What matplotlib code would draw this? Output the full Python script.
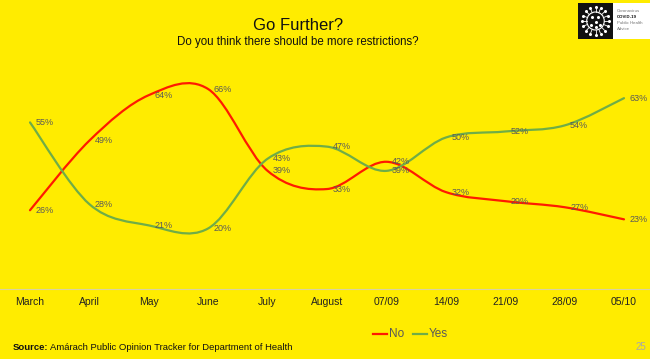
import numpy as np
import matplotlib.pyplot as plt
from matplotlib.path import Path
from matplotlib.patches import PathPatch, Rectangle, Circle

categories = ["March", "April", "May", "June", "July", "August",
              "07/09", "14/09", "21/09", "28/09", "05/10"]
no_vals = [26, 49, 64, 66, 39, 33, 42, 32, 29, 27, 23]
yes_vals = [55, 28, 21, 20, 43, 47, 39, 50, 52, 54, 63]

BG = "#FFEC00"
RED = "#FF1A00"
GREEN = "#6FAD47"
LABEL = "#595959"

plt.rcParams["font.family"] = ["Liberation Sans", "DejaVu Sans"]


def smooth_path(xs, ys):
    # Excel-style smoothed line: cubic Bezier segments through the points
    pts = np.column_stack([xs, ys]).astype(float)
    n = len(pts)
    verts = [pts[0]]
    codes = [Path.MOVETO]
    for i in range(n - 1):
        p0 = pts[max(i - 1, 0)]
        p1 = pts[i]
        p2 = pts[i + 1]
        p3 = pts[min(i + 2, n - 1)]
        c1 = p1 + (p2 - p0) / 6.0
        c2 = p2 - (p3 - p1) / 6.0
        verts += [c1, c2, p2]
        codes += [Path.CURVE4] * 3
    return Path(verts, codes)


fig = plt.figure(figsize=(6.5, 3.59), dpi=100, facecolor=BG)
ax = fig.add_axes([0.0, (359 - 289) / 359, 1.0, 229 / 359])
ax.set_facecolor(BG)

x = np.arange(len(categories))
for vals, col in [(no_vals, RED), (yes_vals, GREEN)]:
    ax.add_patch(PathPatch(smooth_path(x, vals), facecolor="none",
                           edgecolor=col, lw=1.6, capstyle="round"))
    for xi, v in zip(x, vals):
        ax.annotate(f"{v}%", (xi, v), xytext=(4, 0), textcoords="offset points",
                    ha="left", va="center", fontsize=6.5, color=LABEL)

ax.set_xlim(-0.505, 10.438)
ax.set_ylim(0, 75.6)
ax.set_yticks([])
ax.set_xticks(x)
ax.set_xticklabels(categories, fontsize=7.5, color="#222222",
                   family=["Liberation Sans Narrow", "Liberation Sans"])
ax.tick_params(axis="x", length=0, pad=6)
for s in ["top", "right", "left"]:
    ax.spines[s].set_visible(False)
ax.spines["bottom"].set_color("#D9D2A0")
ax.spines["bottom"].set_linewidth(0.8)

# titles
fig.text(298 / 650, 1 - 25 / 359, "Go Further?", ha="center", va="center",
         fontsize=12, color="#111111")
fig.text(298 / 650, 1 - 42 / 359, "Do you think there should be more restrictions?",
         ha="center", va="center", fontsize=8.3, color="#111111")

# legend
ly = 1 - 334 / 359
fig.add_artist(plt.Line2D([373 / 650, 387 / 650], [ly, ly], color=RED, lw=1.6))
fig.text(389 / 650, ly, "No", ha="left", va="center", fontsize=8.5, color=LABEL)
fig.add_artist(plt.Line2D([413 / 650, 427 / 650], [ly, ly], color=GREEN, lw=1.6))
fig.text(429 / 650, ly, "Yes", ha="left", va="center", fontsize=8.5, color=LABEL)

# source + page number
sy = 1 - 347 / 359
src = fig.text(13 / 650, sy, "Source:", ha="left", va="center", fontsize=6.8,
               fontweight="bold", color="#111111",
               family=["Liberation Sans Narrow", "Liberation Sans"])
fig.canvas.draw()
bb = src.get_window_extent().transformed(fig.transFigure.inverted())
fig.text(bb.x1 + 2 / 650, sy, "Amárach Public Opinion Tracker for Department of Health",
         ha="left", va="center", fontsize=6.8, color="#111111",
         family=["Liberation Sans Narrow", "Liberation Sans"])
fig.text(646 / 650, sy, "25", ha="right", va="center", fontsize=7, color="#A8A8A8")

# logo
fig.add_artist(Rectangle((613 / 650, 1 - 39 / 359), 37 / 650, 36 / 359,
                         transform=fig.transFigure, facecolor="white",
                         edgecolor="none"))
lax = fig.add_axes([578 / 650, 1 - 39 / 359, 35 / 650, 36 / 359], zorder=5)
lax.set_facecolor("#111111")
lax.set_xlim(-1, 1)
lax.set_ylim(-1, 1)
lax.set_xticks([])
lax.set_yticks([])
for s in lax.spines.values():
    s.set_visible(False)
lax.add_patch(Circle((0, 0), 0.5, facecolor="none", edgecolor="white", lw=0.8))
ang = np.linspace(0, 2 * np.pi, 16, endpoint=False)
for a in ang:
    lax.plot([0.5 * np.cos(a), 0.72 * np.cos(a)], [0.5 * np.sin(a), 0.72 * np.sin(a)],
             color="white", lw=0.6)
    lax.plot(0.76 * np.cos(a), 0.76 * np.sin(a), "o", color="white", ms=1.2)
for px, py in [(-0.2, 0.2), (0.15, 0.25), (0.0, -0.05), (-0.25, -0.2), (0.25, -0.2), (0.05, -0.35)]:
    lax.plot(px, py, "o", color="white", ms=1.2)
for i, (txt, w) in enumerate([("Coronavirus", "normal"), ("COVID-19", "bold"),
                              ("Public Health", "normal"), ("Advice", "normal")]):
    fig.text(617 / 650, 1 - (11 + i * 6) / 359, txt, ha="left", va="center",
             fontsize=3.2, fontweight=w, color="#111111" if w == "bold" else "#777777")

fig.savefig("out.png", dpi=100, facecolor=BG)
